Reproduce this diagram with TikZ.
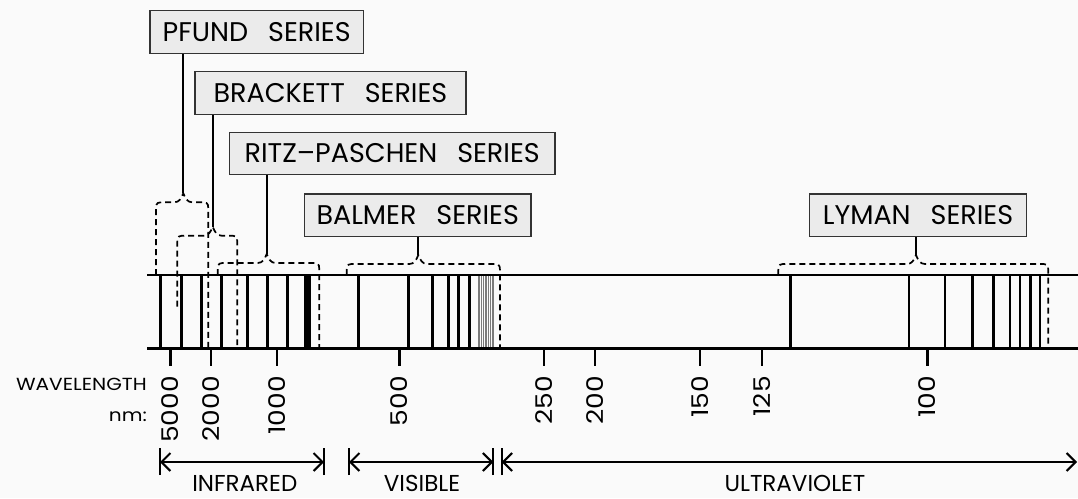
\documentclass[tikz,border=0pt]{standalone}
\usepackage{fontspec}
\setmainfont{Poppins}
\newfontfamily\numfont[FakeStretch=1.15]{Poppins}
\newfontfamily\wlfont[FakeStretch=1.15]{Poppins}
\usetikzlibrary{arrows.meta}
\definecolor{boxfill}{HTML}{EBEBEB}
\definecolor{boxline}{HTML}{333333}
\definecolor{bgcol}{HTML}{FAFAFA}
\definecolor{denseline}{HTML}{7A7A7A}
\newcommand{\seriesbrace}[6]{%
  \draw[bracepath] (#1,#5) -- (#1,#4+15) .. controls (#1,#4+9) and (#1+2,#4+9) .. (#1+8,#4+9)
    -- (#3-9,#4+9) .. controls (#3-4,#4+9) and (#3-2,#4+5) .. (#3,#4)
    .. controls (#3+2,#4+5) and (#3+4,#4+9) .. (#3+9,#4+9)
    -- (#2-8,#4+9) .. controls (#2-2,#4+9) and (#2,#4+9) .. (#2,#4+15) -- (#2,#6);}
\begin{document}
\begin{tikzpicture}[x=1pt,y=-1pt,
  seriesbox/.style={draw=boxline, fill=boxfill, line width=1.5pt, inner sep=0pt, font=\fontsize{27}{30}\selectfont},
  bracepath/.style={dash pattern=on 6pt off 4pt, line width=1.7pt},
  stem/.style={line width=1.7pt},
  specline/.style={line width=2.5pt},
  axisline/.style={line width=2.5pt},
  tickmark/.style={line width=2.2pt},
  numlabel/.style={rotate=90, anchor=east, inner sep=0pt, font=\numfont\fontsize{23}{26}\selectfont},
  bandlabel/.style={inner sep=0pt, anchor=base, font=\fontsize{23}{26}\selectfont},
  dimline/.style={line width=1.8pt, {Straight Barb[length=9pt,width=18pt,line width=2pt]}-{Straight Barb[length=9pt,width=18pt,line width=2pt]}},
  dimbar/.style={line width=1.8pt}
]
\fill[bgcol] (0,0) rectangle (1078,498);
\useasboundingbox (0,0) rectangle (1078,498);

% series boxes
\node[seriesbox, minimum width=213.3pt, minimum height=42.6pt] (pfund) at (256.7,32) {PFUND\hspace{20pt}SERIES};
\node[seriesbox, minimum width=271pt, minimum height=42.6pt] (brackett) at (330.5,93) {BRACKETT\hspace{20pt}SERIES};
\node[seriesbox, minimum width=325.7pt, minimum height=41.6pt] (ritz) at (392.2,153.5) {RITZ--PASCHEN\hspace{20pt}SERIES};
\node[seriesbox, minimum width=226.7pt, minimum height=42.7pt] (balmer) at (417.7,215.3) {BALMER\hspace{20pt}SERIES};
\node[seriesbox, minimum width=217.4pt, minimum height=42.7pt] (lyman) at (918,215.3) {LYMAN\hspace{20pt}SERIES};

% brace peaks
\coordinate (pk1) at (183.3,193.3);
\coordinate (pk2) at (212.7,226.7);
\coordinate (pk3) at (266.7,254);
\coordinate (pk4) at (418.3,255);
\coordinate (pk5) at (916,255);

% stems
\draw[stem] (pk1 |- pfund.south) -- (pk1);
\draw[stem] (pk2 |- brackett.south) -- (pk2);
\draw[stem] (pk3 |- ritz.south) -- (pk3);
\draw[stem] (pk4 |- balmer.south) -- (pk4);
\draw[stem] (pk5 |- lyman.south) -- (pk5);

% braces: L, R, C, ypeak, bottom-left, bottom-right
\seriesbrace{156}{208.3}{183.3}{193.3}{275}{348}
\seriesbrace{177.3}{237.3}{212.7}{226.7}{306.7}{345}
\seriesbrace{217.7}{319.3}{266.7}{254}{275}{348}
\seriesbrace{346.7}{500}{418.3}{255}{275}{348}
\seriesbrace{778.3}{1048.3}{916}{255}{275}{348}

% spectrum lines
\foreach \x in {160.7,181.7,201.7,221.7,247.3,267.7,287.7,358.3,432.3,448.3,458.3,469.3,909,945,972.7,993.3,1010,1020,1030.7,1040}
  \draw[specline] (\x,275) -- (\x,348.5);
\foreach \x in {408.3,790.7}
  \draw[line width=3.2pt] (\x,275) -- (\x,348.5);
\fill (304.2,275) rectangle (311,348.5);
\foreach \x in {479,481.3,483.7,486,488.3,490.7,493}
  \draw[denseline, line width=1.1pt] (\x,275) -- (\x,348.5);

% axis lines
\coordinate (axL1) at (147,275);
\coordinate (axR1) at (1078,275);
\coordinate (axL2) at (147,348.5);
\coordinate (axR2) at (1078,348.5);
\draw[axisline] (axL1) -- (axR1);
\draw[axisline] (axL2) -- (axR2);

% ticks and labels
\foreach \x/\t in {170.5/5000,211/2000,276.6/1000,399.4/500,544.2/250,594.7/200,700/150,761.7/125,927.5/100}{
  \draw[tickmark] (\x,348.5) -- (\x,365.5);
  \node[numlabel] (lab\t) at (\x,376) {\t};
}
\node[anchor=east, inner sep=0pt, font=\wlfont\fontsize{17.5}{20}\selectfont] (wl) at (147,384.5) {WAVELENGTH};
\node[anchor=east, inner sep=0pt, font=\wlfont\fontsize{17.5}{20}\selectfont] (nm) at (147,417) {nm:};

% dimension arrows
\coordinate (irL) at (160,462);
\coordinate (irR) at (324,462);
\coordinate (viL) at (349,462);
\coordinate (viR) at (493.3,462);
\coordinate (uvL) at (501.7,462);
\coordinate (uvR) at (1077,462);
\foreach \c in {irL,irR,viL,viR,uvL}
  \draw[dimbar] ([yshift=-13pt]\c) -- ([yshift=14pt]\c);
\draw[dimline] (irL) -- (irR);
\draw[dimline] (viL) -- (viR);
\draw[dimline] (uvL) -- (uvR);

\node[bandlabel] (ir) at (244.8,491) {INFRARED};
\node[bandlabel] (vis) at (422,491) {VISIBLE};
\node[bandlabel] (uv) at (795,491) {ULTRAVIOLET};
\end{tikzpicture}
\end{document}
